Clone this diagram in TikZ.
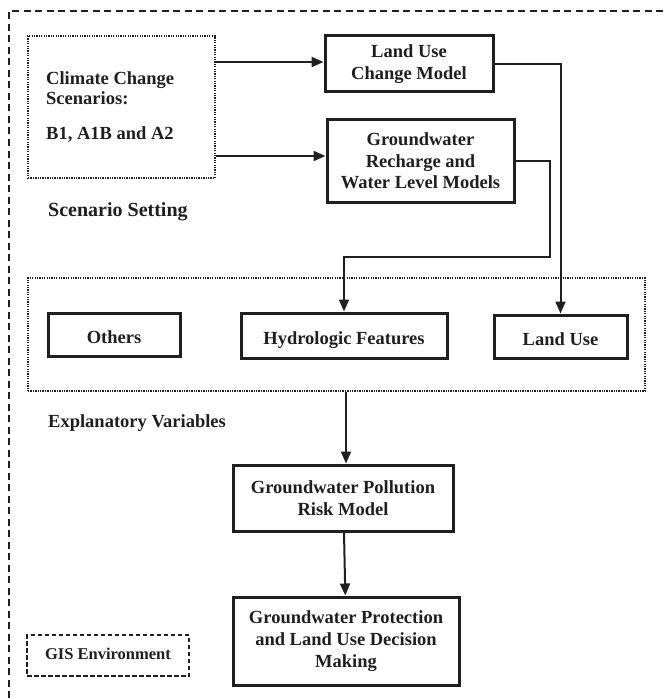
\documentclass[tikz,border=0pt]{standalone}
\usepackage{fontspec}
\setmainfont{Liberation Serif}
\usetikzlibrary{arrows.meta}
\begin{document}
\begin{tikzpicture}[x=1pt,y=-1pt,
  tbox/.style={draw=black!88, line width=3pt, rectangle, inner sep=0pt, align=center,
    font=\bfseries\fontsize{18.5}{21.7}\selectfont, text=black!88},
  oneline/.style={text height=18pt, text depth=0pt},
  dotbox/.style={draw=black!88, line width=2pt, dash pattern=on 1.3pt off 1.1pt, rectangle, inner sep=0pt},
  gisbox/.style={draw=black!88, line width=1.4pt, dash pattern=on 4.5pt off 2.5pt, rectangle, inner sep=0pt,
    font=\bfseries\fontsize{16.5}{20}\selectfont, text=black!88, text height=11pt, text depth=3.5pt},
  outerframe/.style={draw=black!88, line width=2.2pt, dash pattern=on 7pt off 4.5pt},
  conn/.style={draw=black!88, line width=2pt},
  arr/.style={conn, -{Triangle[length=12pt,width=10pt]}},
  lbl/.style={anchor=base west, inner sep=0pt, text=black!88, font=\bfseries\fontsize{18.5}{22}\selectfont}
]
\useasboundingbox (0,0) rectangle (664,698);
\draw[outerframe] (9,698) -- (9,11) -- (664,11);

% top section
\node[dotbox, minimum width=187pt, minimum height=142pt] (clim) at (121.5,107) {};
\node[lbl] (clim1) at (46,85) {Climate Change};
\node[lbl] (clim2) at (46,104.5) {Scenarios:};
\node[lbl] (clim3) at (46,139.5) {B1, A1B and A2};
\node[tbox, minimum width=168pt, minimum height=56pt] (luc) at (409,64) {Land Use\\Change Model};
\node[tbox, minimum width=187pt, minimum height=82pt] (gw) at (420.5,161) {Groundwater\\Recharge and\\Water Level Models};
\node[lbl, font=\bfseries\fontsize{20}{24}\selectfont] (scen) at (48,216) {Scenario Setting};

% explanatory variables
\node[dotbox, minimum width=617pt, minimum height=113pt] (expl) at (336.5,334.5) {};
\node[tbox, oneline, minimum width=132pt, minimum height=43pt] (oth) at (114,334.5) {Others};
\node[tbox, oneline, minimum width=206pt, minimum height=45pt] (hyd) at (344,335.5) {Hydrologic Features};
\node[tbox, oneline, minimum width=133pt, minimum height=43pt] (lu) at (560.5,336.5) {Land Use};
\node[lbl] (expv) at (48,427) {Explanatory Variables};

% lower section
\node[tbox, minimum width=220pt, minimum height=66pt] (poll) at (343,498) {Groundwater Pollution\\Risk Model};
\node[tbox, minimum width=226pt, minimum height=88pt] (dec) at (346,641) {Groundwater Protection\\and Land Use Decision\\Making};
\node[gisbox, minimum width=162pt, minimum height=41pt] (gis) at (108,655.5) {GIS Environment};

% connectors
\coordinate (ya) at (0,62);
\coordinate (yb) at (0,156);
\coordinate (gwx) at (550,257);
\coordinate (xd) at (346,0);
\coordinate (xe) at (344,0);
\coordinate (xf) at (345.3,0);
\draw[arr] (clim.east |- ya) -- (luc.west |- ya);
\draw[arr] (clim.east |- yb) -- (gw.west |- yb);
\draw[arr] (luc.east) -| (lu.north);
\draw[arr] (gw.east) -| (gwx) -| (hyd.north);
\draw[arr] (expl.south -| xd) -- (poll.north -| xd);
\draw[arr] (poll.south -| xe) -- (dec.north -| xf);
\end{tikzpicture}
\end{document}
